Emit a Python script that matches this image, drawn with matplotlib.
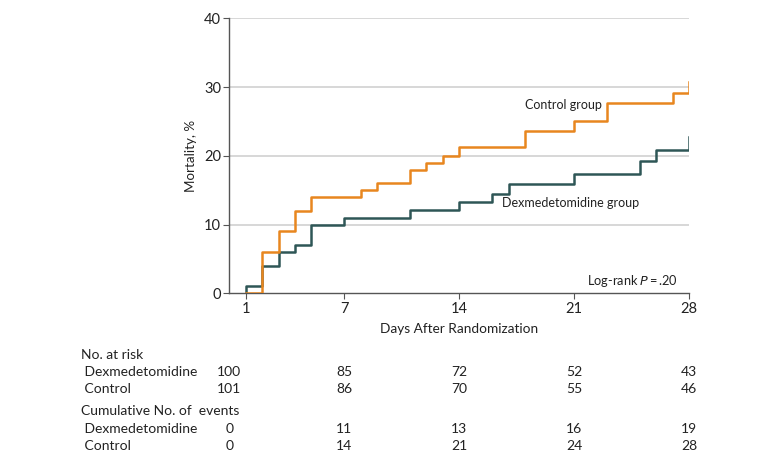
import matplotlib
matplotlib.use("Agg")
import matplotlib.pyplot as plt
import matplotlib.transforms as mtransforms

# Kaplan-Meier step data (day, cumulative mortality %)
control_days = [1, 1, 2, 3, 4, 5, 8, 9, 11, 12, 13, 14, 18, 21, 23, 27, 28]
control_mort = [0, 0, 6, 9, 12, 14, 15, 16, 18, 19, 20, 21.3, 23.6, 25, 27.7, 29.2, 30.7]
dex_days = [1, 1, 2, 3, 4, 5, 7, 11, 14, 16, 17, 21, 25, 26, 28]
dex_mort = [0, 1, 4, 6, 7, 10, 11, 12.1, 13.3, 14.5, 15.9, 17.4, 19.2, 20.9, 22.8]

x_ticks = [1, 7, 14, 21, 28]
y_ticks = [0, 10, 20, 30, 40]

# risk table
table_days = [0, 7, 14, 21, 28]
risk_dex = [100, 85, 72, 52, 43]
risk_control = [101, 86, 70, 55, 46]
events_dex = [0, 11, 13, 16, 19]
events_control = [0, 14, 21, 24, 28]

orange = "#E8861F"
teal = "#2E5656"
txt = "#222222"
plt.rcParams['font.family'] = ['Lato', 'DejaVu Sans']

fig = plt.figure(figsize=(7.8, 4.63), dpi=100)
ax = fig.add_axes([0.294, 0.3665, 0.5897, 0.594])

for y in y_ticks[1:]:
    ax.plot([0, 28], [y, y], color="#d4d4d4", linewidth=1.3, zorder=1)

ax.step(control_days, control_mort, where="post", color=orange, linewidth=1.8, zorder=3)
ax.step(dex_days, dex_mort, where="post", color=teal, linewidth=1.8, zorder=2)

ax.set_xlim(0, 28)
ax.set_ylim(0, 40)
ax.set_xticks(x_ticks)
ax.set_yticks(y_ticks)
ax.tick_params(labelsize=10.5, length=4, color="#555555", labelcolor=txt, pad=2)
for s in ["top", "right"]:
    ax.spines[s].set_visible(False)
for s in ["left", "bottom"]:
    ax.spines[s].set_color("#555555")
    ax.spines[s].set_linewidth(1.0)

ax.set_xlabel("Days After Randomization", fontsize=9.8, color=txt)
ax.set_ylabel("Mortality, %", fontsize=9.6, color=txt)
ax.xaxis.set_label_coords(0.5, -0.108)
ax.yaxis.set_label_coords(-0.07, 0.5)

ax.text(18.0, 27.4, "Control group", fontsize=9.0, color=txt, va="center")
ax.text(16.6, 13.2, "Dexmedetomidine group", fontsize=9.0, color=txt, va="center")
ax.text(27.3, 1.8, "Log-rank $\\it{P}$\u2009=\u2009.20", fontsize=9.2, color=txt,
        va="center", ha="right")

# risk table below the axes
trans = mtransforms.blended_transform_factory(ax.transData, fig.transFigure)
rows = [
    (355, "No. at risk", None),
    (372, " Dexmedetomidine", risk_dex),
    (389, " Control", risk_control),
    (411, "Cumulative No. of  events", None),
    (429, " Dexmedetomidine", events_dex),
    (446, " Control", events_control),
]
H = 463.0
fs_tab = 10.0
for ypix, label, vals in rows:
    yf = 1 - ypix / H
    fig.text(81 / 780.0, yf, label, fontsize=fs_tab, color=txt, va="center", ha="left")
    if vals is not None:
        for d, v in zip(table_days, vals):
            ax.text(d, yf, str(v), transform=trans, fontsize=fs_tab, color=txt,
                    va="center", ha="center", clip_on=False)

fig.savefig("out.png", dpi=100)
